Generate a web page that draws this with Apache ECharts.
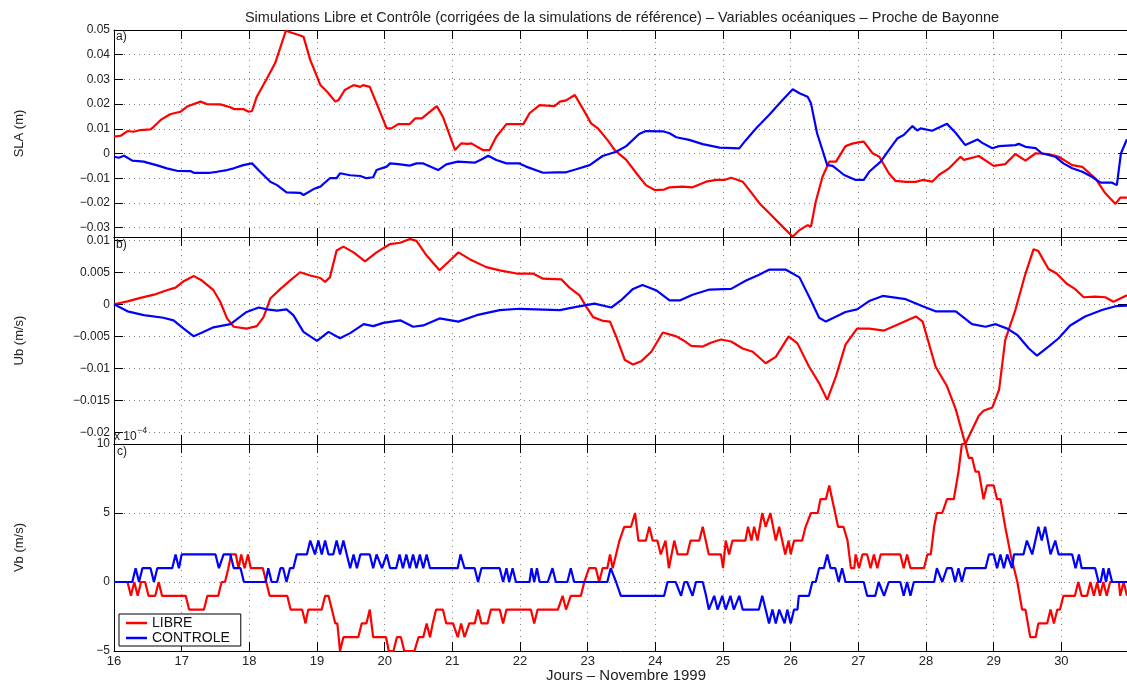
<!DOCTYPE html>
<html>
<head>
<meta charset="utf-8">
<script src="https://cdn.jsdelivr.net/npm/echarts@6/dist/echarts.min.js"></script>
<style>
html,body{margin:0;padding:0;background:#fff;}
#chart{width:1127px;height:682px;}
</style>
</head>
<body>
<div id="chart"></div>
<script>
// ---------- data (day of November 1999, value) ----------
var dayTicks = [16,17,18,19,20,21,22,23,24,25,26,27,28,29,30];
var slaTicks = [-0.03,-0.02,-0.01,0,0.01,0.02,0.03,0.04,0.05];
var ubTicks = [-0.02,-0.015,-0.01,-0.005,0,0.005,0.01];
var vbTicks = [-5,0,5,10];

var slaLibre = [[16.0,0.0068],[16.1,0.0072],[16.2,0.0091],[16.29,0.0088],[16.39,0.0095],[16.54,0.0098],[16.59,0.0109],[16.69,0.0136],[16.83,0.0159],[16.98,0.0169],[17.08,0.019],[17.28,0.021],[17.37,0.02],[17.57,0.0199],[17.72,0.0187],[17.77,0.018],[17.91,0.018],[17.99,0.0169],[18.04,0.0172],[18.11,0.023],[18.26,0.0304],[18.38,0.0365],[18.54,0.0497],[18.65,0.0487],[18.73,0.048],[18.75,0.0483],[18.8,0.0473],[18.9,0.0379],[19.05,0.0277],[19.15,0.025],[19.27,0.021],[19.32,0.0217],[19.41,0.0257],[19.54,0.0277],[19.64,0.027],[19.68,0.0277],[19.78,0.027],[19.88,0.0203],[20.03,0.0102],[20.1,0.0102],[20.2,0.0119],[20.37,0.0119],[20.45,0.0142],[20.55,0.0142],[20.77,0.0192],[20.86,0.0149],[21.04,0.0014],[21.13,0.0041],[21.23,0.0039],[21.28,0.0041],[21.45,0.0014],[21.55,0.0014],[21.65,0.0068],[21.8,0.0119],[22.05,0.0119],[22.14,0.0163],[22.29,0.0196],[22.51,0.0192],[22.59,0.021],[22.68,0.0215],[22.81,0.0237],[22.91,0.019],[23.05,0.0122],[23.15,0.0102],[23.3,0.0052],[23.4,0.0014],[23.57,-0.0026],[23.72,-0.008],[23.86,-0.0128],[23.99,-0.0148],[24.13,-0.0146],[24.21,-0.0137],[24.4,-0.0134],[24.55,-0.0137],[24.75,-0.0114],[24.9,-0.0107],[25.02,-0.0107],[25.12,-0.0098],[25.22,-0.0107],[25.29,-0.0114],[25.39,-0.0148],[25.54,-0.0202],[25.66,-0.0235],[25.88,-0.0296],[26.03,-0.0337],[26.13,-0.031],[26.25,-0.029],[26.3,-0.0296],[26.37,-0.0195],[26.47,-0.0094],[26.57,-0.0033],[26.67,-0.0033],[26.81,0.003],[26.91,0.004],[27.0,0.0045],[27.08,0.0048],[27.21,0.0001],[27.31,-0.0013],[27.45,-0.008],[27.55,-0.0111],[27.7,-0.0115],[27.85,-0.0115],[27.95,-0.0107],[28.09,-0.0114],[28.19,-0.0087],[28.34,-0.006],[28.51,-0.0013],[28.56,-0.0026],[28.78,-0.001],[29.0,-0.005],[29.17,-0.0043],[29.32,-0.0002],[29.47,-0.0029],[29.62,0.0001],[29.81,-0.0002],[29.96,-0.0013],[30.16,-0.0047],[30.31,-0.0054],[30.5,-0.01],[30.65,-0.0161],[30.8,-0.0204],[30.87,-0.0179],[30.97,-0.0179]];

var slaControle = [[16.0,-0.0013],[16.07,-0.0017],[16.15,-0.0009],[16.27,-0.0029],[16.44,-0.0033],[16.49,-0.0037],[16.64,-0.0048],[16.78,-0.006],[16.93,-0.007],[17.13,-0.0071],[17.18,-0.0078],[17.42,-0.0078],[17.52,-0.0074],[17.67,-0.0067],[17.77,-0.006],[17.91,-0.0047],[18.04,-0.004],[18.16,-0.0074],[18.31,-0.0114],[18.41,-0.0128],[18.55,-0.0157],[18.75,-0.0159],[18.8,-0.0168],[18.95,-0.0144],[19.05,-0.0134],[19.19,-0.01],[19.29,-0.01],[19.34,-0.008],[19.49,-0.0088],[19.64,-0.0091],[19.73,-0.01],[19.83,-0.0096],[19.88,-0.0067],[20.03,-0.0053],[20.08,-0.004],[20.2,-0.0043],[20.37,-0.0049],[20.47,-0.004],[20.57,-0.004],[20.79,-0.0067],[20.91,-0.0044],[21.08,-0.0033],[21.33,-0.0037],[21.43,-0.0024],[21.53,-0.0009],[21.65,-0.0026],[21.8,-0.004],[21.99,-0.004],[22.09,-0.0053],[22.34,-0.0078],[22.54,-0.0076],[22.68,-0.0076],[22.83,-0.0064],[23.03,-0.0047],[23.22,-0.001],[23.42,0.0007],[23.57,0.003],[23.76,0.0079],[23.86,0.0091],[24.11,0.009],[24.21,0.0082],[24.31,0.0066],[24.5,0.0055],[24.7,0.0038],[24.95,0.0024],[25.24,0.0021],[25.34,0.0055],[25.49,0.0102],[25.68,0.0156],[25.88,0.0217],[26.03,0.026],[26.13,0.0244],[26.25,0.023],[26.3,0.0203],[26.39,0.0082],[26.54,-0.0047],[26.62,-0.005],[26.79,-0.0087],[26.96,-0.0107],[27.08,-0.0107],[27.16,-0.0074],[27.33,-0.0033],[27.45,0.0014],[27.58,0.0062],[27.67,0.0075],[27.8,0.0111],[27.87,0.0093],[27.92,0.0102],[28.09,0.0092],[28.31,0.012],[28.44,0.0083],[28.58,0.0034],[28.76,0.0057],[28.83,0.0043],[28.98,0.0021],[29.08,0.003],[29.32,0.0034],[29.37,0.0039],[29.47,0.0027],[29.62,0.0022],[29.71,0.0001],[29.91,-0.0013],[30.03,-0.004],[30.16,-0.006],[30.31,-0.0074],[30.45,-0.0094],[30.58,-0.0118],[30.75,-0.0118],[30.82,-0.0128],[30.88,0.0],[30.97,0.0058]];

var ubLibre = [[16.0,0],[16.2,0.00046],[16.39,0.001],[16.59,0.0015],[16.78,0.0022],[16.91,0.0026],[17.03,0.0036],[17.18,0.0044],[17.3,0.0037],[17.47,0.0022],[17.57,0.0004],[17.67,-0.0022],[17.77,-0.0035],[17.96,-0.0038],[18.11,-0.0034],[18.21,-0.002],[18.31,0.0009],[18.46,0.0024],[18.6,0.0037],[18.75,0.005],[18.9,0.0045],[19.05,0.0041],[19.12,0.0035],[19.19,0.0042],[19.29,0.0084],[19.39,0.009],[19.54,0.0081],[19.71,0.0067],[19.88,0.0081],[20.08,0.0094],[20.23,0.0096],[20.37,0.0102],[20.47,0.0099],[20.62,0.0076],[20.81,0.0053],[20.96,0.0068],[21.09,0.0081],[21.28,0.0069],[21.5,0.0058],[21.7,0.0053],[21.95,0.0048],[22.19,0.0048],[22.34,0.004],[22.61,0.0039],[22.73,0.0026],[22.88,0.0014],[22.98,-0.0004],[23.08,-0.002],[23.23,-0.0026],[23.33,-0.0027],[23.42,-0.005],[23.55,-0.0087],[23.67,-0.0094],[23.79,-0.0089],[23.94,-0.0074],[24.11,-0.0044],[24.31,-0.005],[24.41,-0.0056],[24.53,-0.0065],[24.7,-0.0066],[24.82,-0.006],[24.97,-0.0055],[25.12,-0.0058],[25.29,-0.0069],[25.44,-0.0074],[25.63,-0.0092],[25.78,-0.0082],[25.97,-0.005],[26.1,-0.0061],[26.27,-0.0097],[26.42,-0.0123],[26.54,-0.0149],[26.67,-0.0112],[26.81,-0.0063],[26.98,-0.0038],[27.16,-0.0038],[27.38,-0.0041],[27.55,-0.0033],[27.7,-0.0026],[27.85,-0.0019],[27.95,-0.0027],[28.14,-0.0097],[28.31,-0.0128],[28.44,-0.0164],[28.58,-0.0218],[28.78,-0.0174],[28.85,-0.0166],[28.98,-0.0161],[29.08,-0.0133],[29.17,-0.0056],[29.32,-0.0009],[29.47,0.0048],[29.59,0.0086],[29.66,0.0083],[29.81,0.0055],[29.93,0.0048],[30.08,0.0032],[30.2,0.0024],[30.33,0.0011],[30.5,0.0012],[30.65,0.0011],[30.77,0.0004],[30.97,0.0014]];

var ubControle = [[16.0,0],[16.2,-0.0011],[16.44,-0.0017],[16.73,-0.0021],[16.88,-0.0025],[17.03,-0.0038],[17.18,-0.005],[17.28,-0.0045],[17.47,-0.0036],[17.72,-0.0031],[17.96,-0.0012],[18.14,-0.0005],[18.26,-0.0008],[18.41,-0.001],[18.55,-0.0008],[18.65,-0.0017],[18.8,-0.0043],[19.0,-0.0057],[19.17,-0.0043],[19.34,-0.0053],[19.49,-0.0045],[19.69,-0.0031],[19.83,-0.0034],[19.98,-0.0029],[20.23,-0.0025],[20.42,-0.0035],[20.57,-0.0033],[20.81,-0.0022],[21.09,-0.0027],[21.36,-0.0017],[21.7,-0.0009],[21.99,-0.0007],[22.59,-0.0009],[22.83,-0.0004],[23.1,0.0001],[23.35,-0.0005],[23.49,0.0006],[23.67,0.0024],[23.81,0.003],[24.01,0.0022],[24.21,0.0006],[24.36,0.0006],[24.55,0.0015],[24.8,0.0023],[25.12,0.0024],[25.34,0.0037],[25.51,0.0045],[25.68,0.0054],[25.93,0.0054],[26.13,0.0042],[26.3,0.0006],[26.42,-0.0021],[26.52,-0.0027],[26.81,-0.0012],[26.98,-0.0008],[27.16,0.0005],[27.36,0.0013],[27.7,0.0008],[27.95,-0.0003],[28.14,-0.0011],[28.44,-0.0011],[28.68,-0.0031],[28.88,-0.0035],[29.03,-0.0031],[29.2,-0.0038],[29.35,-0.0048],[29.52,-0.0069],[29.64,-0.008],[29.81,-0.0066],[29.96,-0.0053],[30.13,-0.0033],[30.35,-0.0019],[30.6,-0.0009],[30.8,-0.0003],[30.97,-0.0002]];

// Vb values in units of 1e-4 m/s
var vbLibre = [[16.0,0],[16.2,0],[16.25,-1],[16.3,0],[16.35,-1],[16.4,0],[16.46,0],[16.51,-1],[16.61,-1],[16.66,0],[16.71,-1],[17.06,-1],[17.11,-2],[17.33,-2],[17.38,-1],[17.54,-1],[17.59,0],[17.64,0],[17.69,1],[17.73,2],[17.8,2],[17.84,1],[17.88,2],[17.93,1],[17.98,2],[18.02,1],[18.2,1],[18.25,0],[18.3,-1],[18.56,-1],[18.61,-2],[18.78,-2],[18.83,-3],[18.87,-2],[19.07,-2],[19.12,-1],[19.17,-1],[19.22,-2],[19.27,-3],[19.3,-3],[19.34,-5],[19.39,-4],[19.61,-4],[19.66,-3],[19.73,-3],[19.78,-2],[19.83,-4],[20.02,-4],[20.06,-5],[20.13,-5],[20.18,-4],[20.24,-4],[20.29,-5],[20.44,-5],[20.5,-4],[20.57,-4],[20.62,-3],[20.67,-4],[20.71,-3],[20.76,-2],[20.86,-2],[20.91,-3],[21.01,-3],[21.08,-4],[21.13,-3],[21.18,-4],[21.25,-3],[21.33,-3],[21.38,-2],[21.43,-3],[21.52,-3],[21.57,-2],[21.7,-2],[21.75,-3],[21.8,-2],[22.16,-2],[22.21,-3],[22.26,-2],[22.56,-2],[22.63,-1],[22.68,-2],[22.75,-1],[22.9,-1],[22.95,0],[23.02,1],[23.12,1],[23.17,0],[23.22,1],[23.29,1],[23.33,2],[23.37,1],[23.47,3],[23.54,4],[23.64,4],[23.7,5],[23.75,3],[23.86,3],[23.91,4],[23.96,3],[24.03,3],[24.08,2],[24.15,3],[24.2,1],[24.28,3],[24.33,2],[24.47,2],[24.52,3],[24.65,3],[24.7,4],[24.79,2],[24.97,2],[25.0,1],[25.04,3],[25.09,2],[25.14,3],[25.33,3],[25.37,4],[25.42,3],[25.46,4],[25.51,3],[25.58,5],[25.63,4],[25.7,5],[25.78,3],[25.83,4],[25.92,2],[25.97,3],[26.0,2],[26.05,3],[26.17,3],[26.22,4],[26.3,5],[26.4,5],[26.44,6],[26.52,6],[26.57,7],[26.7,4],[26.78,4],[26.84,3],[26.89,1],[26.94,1],[26.96,2],[27.01,1],[27.06,2],[27.13,2],[27.18,1],[27.23,2],[27.28,1],[27.33,2],[27.62,2],[27.67,1],[27.72,2],[27.77,1],[27.97,1],[28.02,2],[28.07,2],[28.12,4],[28.16,5],[28.24,5],[28.31,6],[28.41,6],[28.48,8],[28.53,10],[28.58,10],[28.63,9],[28.68,9],[28.73,8],[28.78,8],[28.85,6],[28.9,7],[29.0,7],[29.05,6],[29.1,6],[29.17,4],[29.25,2],[29.3,1],[29.35,0],[29.42,-2],[29.47,-2],[29.54,-4],[29.62,-4],[29.66,-3],[29.79,-3],[29.84,-2],[29.89,-3],[29.94,-2],[29.98,-2],[30.03,-1],[30.2,-1],[30.25,0],[30.3,-1],[30.38,-1],[30.43,0],[30.48,-1],[30.53,0],[30.57,-1],[30.62,0],[30.67,-1],[30.72,0],[30.85,0],[30.87,-1],[30.92,0],[30.97,-1]];

var vbControle = [[16.0,0],[16.27,0],[16.32,1],[16.37,0],[16.42,1],[16.54,1],[16.59,0],[16.64,1],[16.86,1],[16.91,2],[16.96,1],[17.0,2],[17.5,2],[17.55,1],[17.62,2],[17.72,2],[17.77,1],[17.87,1],[17.92,0],[18.24,0],[18.28,1],[18.33,0],[18.41,0],[18.46,1],[18.5,1],[18.55,0],[18.6,1],[18.65,1],[18.7,2],[18.85,2],[18.9,3],[18.97,2],[19.02,3],[19.07,2],[19.12,3],[19.17,2],[19.24,2],[19.29,3],[19.34,2],[19.39,3],[19.44,2],[19.49,1],[19.54,2],[19.59,1],[19.64,2],[19.78,2],[19.83,1],[19.88,2],[19.96,1],[20.03,2],[20.08,1],[20.17,1],[20.22,2],[20.27,1],[20.32,2],[20.37,1],[20.42,2],[20.47,1],[20.52,2],[20.57,1],[20.62,2],[20.67,1],[21.08,1],[21.12,2],[21.18,1],[21.33,1],[21.38,0],[21.43,1],[21.7,1],[21.75,0],[21.8,1],[21.84,0],[21.89,1],[21.94,0],[22.14,0],[22.17,1],[22.21,0],[22.25,1],[22.29,0],[22.41,0],[22.48,1],[22.53,0],[22.7,0],[22.75,1],[22.8,0],[23.29,0],[23.34,1],[23.42,0],[23.44,0],[23.49,-1],[24.13,-1],[24.18,0],[24.3,0],[24.38,-1],[24.43,0],[24.47,0],[24.55,-1],[24.6,0],[24.7,0],[24.75,-1],[24.79,-2],[24.87,-1],[24.92,-2],[24.99,-1],[25.04,-2],[25.11,-1],[25.16,-2],[25.24,-1],[25.29,-2],[25.53,-2],[25.58,-1],[25.63,-2],[25.68,-3],[25.73,-2],[25.78,-3],[25.83,-2],[25.91,-3],[25.95,-2],[26.0,-3],[26.05,-2],[26.1,-2],[26.12,-1],[26.27,-1],[26.32,0],[26.37,0],[26.42,1],[26.49,1],[26.54,2],[26.59,1],[26.66,1],[26.71,0],[26.76,1],[26.81,0],[27.08,0],[27.13,-1],[27.25,-1],[27.3,0],[27.38,-1],[27.45,0],[27.62,0],[27.67,-1],[27.72,0],[27.77,-1],[27.82,0],[28.12,0],[28.16,1],[28.24,0],[28.31,1],[28.38,1],[28.43,0],[28.48,1],[28.53,0],[28.58,1],[28.88,1],[28.93,2],[29.0,2],[29.05,1],[29.1,2],[29.15,1],[29.2,2],[29.27,1],[29.3,2],[29.44,2],[29.49,3],[29.57,2],[29.66,4],[29.71,3],[29.76,4],[29.84,2],[29.91,3],[29.96,2],[30.16,2],[30.21,1],[30.26,2],[30.3,1],[30.5,1],[30.55,0],[30.58,0],[30.62,1],[30.66,0],[30.7,1],[30.75,0],[30.97,0]];

// ---------- chart ----------
var FONT = '"Liberation Sans", Arial, Helvetica, sans-serif';
var RED = '#ff0000', BLUE = '#0000ff';
var chart = echarts.init(document.getElementById('chart'), null, {renderer: 'canvas'});

var grids = [
  {left: 114, right: -1, top: 30, height: 207},
  {left: 114, right: -1, top: 237, height: 207},
  {left: 114, right: -1, top: 444, height: 207}
];
var yRanges = [[-0.0338, 0.05], [-0.0218, 0.0105], [-5, 10]];
var yTicks = [slaTicks, ubTicks, vbTicks];

function fmt(v) {
  if (v === 0) return '0';
  return (v < 0 ? '\u2212' : '') + String(Math.abs(v));
}

var xAxes = [], yAxes = [];
for (var i = 0; i < 3; i++) {
  xAxes.push({
    type: 'value', gridIndex: i, position: 'bottom', min: 16, max: 30.97,
    axisLine: {show: true, onZero: false, lineStyle: {color: '#000', width: 1}},
    axisTick: {show: true, inside: true, length: 9, customValues: dayTicks, lineStyle: {color: '#000'}},
    axisLabel: {show: i === 2, customValues: dayTicks, margin: 4, color: '#222', fontSize: 13, fontFamily: FONT},
    splitLine: {show: true, lineStyle: {color: '#808080', type: [1, 5], width: 1}}
  });
  xAxes.push({
    type: 'value', gridIndex: i, position: 'top', min: 16, max: 30.97,
    axisLine: {show: true, onZero: false, lineStyle: {color: '#000', width: 1}},
    axisTick: {show: true, inside: true, length: 9, customValues: dayTicks, lineStyle: {color: '#000'}},
    axisLabel: {show: false},
    splitLine: {show: false}
  });
  yAxes.push({
    type: 'value', gridIndex: i, position: 'left', min: yRanges[i][0], max: yRanges[i][1],
    axisLine: {show: true, onZero: false, lineStyle: {color: '#000', width: 1}},
    axisTick: {show: true, inside: true, length: 9, customValues: yTicks[i], lineStyle: {color: '#000'}},
    axisLabel: {show: true, customValues: yTicks[i], margin: 4, color: '#222', fontSize: 12, fontFamily: FONT, formatter: fmt},
    splitLine: {show: true, lineStyle: {color: '#808080', type: [1, 4], width: 1}}
  });
  yAxes.push({
    type: 'value', gridIndex: i, position: 'right', min: yRanges[i][0], max: yRanges[i][1],
    axisLine: {show: true, onZero: false, lineStyle: {color: '#000', width: 1}},
    axisTick: {show: true, inside: true, length: 9, customValues: yTicks[i], lineStyle: {color: '#000'}},
    axisLabel: {show: false},
    splitLine: {show: false}
  });
}

function line(name, data, color, idx) {
  return {
    type: 'line', name: name, data: data,
    xAxisIndex: idx * 2, yAxisIndex: idx * 2,
    symbol: 'none', showSymbol: false, clip: false,
    lineStyle: {color: color, width: 2.2},
    itemStyle: {color: color},
    emphasis: {disabled: true}
  };
}

function txt(text, x, y, size, opts) {
  var s = {text: text, x: 0, y: 0, fontSize: size, fontFamily: FONT, fill: '#222',
           textAlign: 'left', textVerticalAlign: 'middle', align: 'left', verticalAlign: 'middle'};
  if (opts && opts.center) { s.textAlign = 'center'; s.align = 'center'; }
  return {type: 'text', x: x, y: y, rotation: (opts && opts.rot) || 0, style: s, z: 100, silent: true};
}

var option = {
  animation: false,
  backgroundColor: '#fff',
  title: {
    text: 'Simulations Libre et Contr\u00f4le (corrig\u00e9es de la simulations de r\u00e9f\u00e9rence) \u2013 Variables oc\u00e9aniques \u2013 Proche de Bayonne',
    left: 622, top: 10, padding: 0, textAlign: 'center',
    textStyle: {fontSize: 14.5, fontWeight: 'normal', color: '#222', fontFamily: FONT}
  },
  grid: grids,
  xAxis: xAxes,
  yAxis: yAxes,
  legend: {
    data: [
      {name: 'LIBRE', icon: 'rect', itemStyle: {color: RED}},
      {name: 'CONTROLE', icon: 'rect', itemStyle: {color: BLUE}}
    ],
    orient: 'vertical', left: 119, top: 614,
    padding: [2, 11, 1, 7], itemGap: 1, itemWidth: 21, itemHeight: 2.5,
    backgroundColor: '#fff', borderColor: '#000', borderWidth: 1, borderRadius: 0,
    selectedMode: false,
    textStyle: {fontSize: 14, fontFamily: FONT, color: '#111', lineHeight: 14}
  },
  series: [
    line('LIBRE', slaLibre, RED, 0),
    line('CONTROLE', slaControle, BLUE, 0),
    line('LIBRE', ubLibre, RED, 1),
    line('CONTROLE', ubControle, BLUE, 1),
    line('LIBRE', vbLibre, RED, 2),
    line('CONTROLE', vbControle, BLUE, 2)
  ],
  graphic: [
    txt('SLA (m)', 19, 133.5, 13, {center: true, rot: Math.PI / 2}),
    txt('Ub (m/s)', 19, 340.5, 13, {center: true, rot: Math.PI / 2}),
    txt('Vb (m/s)', 19, 547.5, 13, {center: true, rot: Math.PI / 2}),
    txt('Jours \u2013 Novembre 1999', 626, 676, 15, {center: true}),
    txt('a)', 116, 37, 12),
    txt('b)', 116, 244.5, 12),
    txt('c)', 117, 451.5, 12),
    txt('x 10', 114, 436.5, 12),
    txt('\u22124', 137, 431, 9)
  ]
};
chart.setOption(option);
</script>
</body>
</html>
